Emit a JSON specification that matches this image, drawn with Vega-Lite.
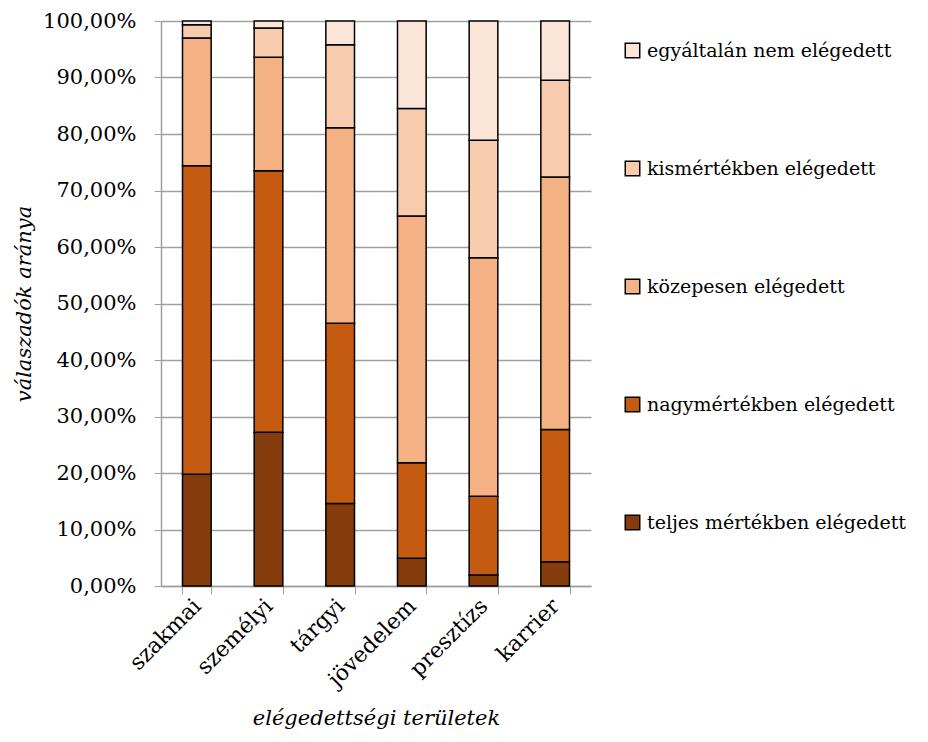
{
  "$schema": "https://vega.github.io/schema/vega-lite/v6.json",
  "width": 430,
  "height": 565,
  "autosize": "none",
  "padding": {"left": 161, "top": 21, "right": 337, "bottom": 156},
  "background": "white",
  "config": {
    "locale": {"number": {"decimal": ",", "thousands": " ", "grouping": [3], "currency": ["", " Ft"]}},
    "view": {"stroke": null},
    "font": "DejaVu Serif",
    "axis": {"labelFont": "DejaVu Serif", "titleFont": "DejaVu Serif"},
    "legend": {"labelFont": "DejaVu Serif"}
  },
  "data": {
    "values": [
      {"terulet": "szakmai", "kat": "teljes mértékben elégedett", "arany": 0.198},
      {"terulet": "szakmai", "kat": "nagymértékben elégedett", "arany": 0.546},
      {"terulet": "szakmai", "kat": "közepesen elégedett", "arany": 0.226},
      {"terulet": "szakmai", "kat": "kismértékben elégedett", "arany": 0.0235},
      {"terulet": "szakmai", "kat": "egyáltalán nem elégedett", "arany": 0.0065},
      {"terulet": "személyi", "kat": "teljes mértékben elégedett", "arany": 0.272},
      {"terulet": "személyi", "kat": "nagymértékben elégedett", "arany": 0.463},
      {"terulet": "személyi", "kat": "közepesen elégedett", "arany": 0.201},
      {"terulet": "személyi", "kat": "kismértékben elégedett", "arany": 0.0516},
      {"terulet": "személyi", "kat": "egyáltalán nem elégedett", "arany": 0.0124},
      {"terulet": "tárgyi", "kat": "teljes mértékben elégedett", "arany": 0.146},
      {"terulet": "tárgyi", "kat": "nagymértékben elégedett", "arany": 0.319},
      {"terulet": "tárgyi", "kat": "közepesen elégedett", "arany": 0.346},
      {"terulet": "tárgyi", "kat": "kismértékben elégedett", "arany": 0.147},
      {"terulet": "tárgyi", "kat": "egyáltalán nem elégedett", "arany": 0.042},
      {"terulet": "jövedelem", "kat": "teljes mértékben elégedett", "arany": 0.049},
      {"terulet": "jövedelem", "kat": "nagymértékben elégedett", "arany": 0.169},
      {"terulet": "jövedelem", "kat": "közepesen elégedett", "arany": 0.437},
      {"terulet": "jövedelem", "kat": "kismértékben elégedett", "arany": 0.19},
      {"terulet": "jövedelem", "kat": "egyáltalán nem elégedett", "arany": 0.155},
      {"terulet": "presztízs", "kat": "teljes mértékben elégedett", "arany": 0.0195},
      {"terulet": "presztízs", "kat": "nagymértékben elégedett", "arany": 0.1395},
      {"terulet": "presztízs", "kat": "közepesen elégedett", "arany": 0.422},
      {"terulet": "presztízs", "kat": "kismértékben elégedett", "arany": 0.208},
      {"terulet": "presztízs", "kat": "egyáltalán nem elégedett", "arany": 0.211},
      {"terulet": "karrier", "kat": "teljes mértékben elégedett", "arany": 0.043},
      {"terulet": "karrier", "kat": "nagymértékben elégedett", "arany": 0.234},
      {"terulet": "karrier", "kat": "közepesen elégedett", "arany": 0.447},
      {"terulet": "karrier", "kat": "kismértékben elégedett", "arany": 0.171},
      {"terulet": "karrier", "kat": "egyáltalán nem elégedett", "arany": 0.105}
    ]
  },
  "mark": {"type": "bar", "stroke": "black", "strokeWidth": 1.5},
  "encoding": {
    "x": {
      "field": "terulet",
      "type": "nominal",
      "sort": ["szakmai", "személyi", "tárgyi", "jövedelem", "presztízs", "karrier"],
      "scale": {"paddingInner": 0.6, "paddingOuter": 0.3},
      "axis": {
        "title": "elégedettségi területek",
        "titleFont": "DejaVu Serif",
        "titleFontStyle": "italic",
        "titleFontWeight": "normal",
        "titleFontSize": 21,
        "titleColor": "black",
        "titlePadding": 17,
        "labelAngle": -45,
        "labelAlign": "right",
        "labelBaseline": "middle",
        "labelFont": "DejaVu Serif",
        "labelFontSize": 22,
        "labelColor": "black",
        "labelPadding": 8,
        "tickBand": "extent",
        "tickSize": 8,
        "tickColor": "#a0a0a0",
        "domainColor": "#a0a0a0",
        "domainWidth": 1.5,
        "grid": false
      }
    },
    "y": {
      "field": "arany",
      "type": "quantitative",
      "stack": "zero",
      "scale": {"domain": [0, 1], "nice": false},
      "axis": {
        "title": "válaszadók aránya",
        "titleFont": "DejaVu Serif",
        "titleFontStyle": "italic",
        "titleFontWeight": "normal",
        "titleFontSize": 21,
        "titleColor": "black",
        "titlePadding": 8,
        "values": [0, 0.1, 0.2, 0.3, 0.4, 0.5, 0.6, 0.7, 0.8, 0.9, 1],
        "format": ".2%",
        "labelFont": "DejaVu Serif",
        "labelFontSize": 21,
        "labelColor": "black",
        "labelPadding": 18,
        "tickSize": 7,
        "tickColor": "#a0a0a0",
        "domainColor": "#a0a0a0",
        "domainWidth": 1.5,
        "gridColor": "#a0a0a0",
        "gridWidth": 1.5
      }
    },
    "color": {
      "field": "kat",
      "type": "nominal",
      "scale": {
        "domain": ["egyáltalán nem elégedett", "kismértékben elégedett", "közepesen elégedett", "nagymértékben elégedett", "teljes mértékben elégedett"],
        "range": ["#FBE5D6", "#F8CBAD", "#F4B183", "#C55A11", "#843C0C"]
      },
      "legend": {
        "title": null,
        "orient": "none",
        "legendX": 462,
        "legendY": 20,
        "symbolType": "square",
        "symbolSize": 210,
        "symbolStrokeColor": "black",
        "symbolStrokeWidth": 1.5,
        "labelFont": "DejaVu Serif",
        "labelFontSize": 19,
        "labelColor": "black",
        "labelOffset": 5,
        "labelLimit": 400,
        "rowPadding": 97
      }
    },
    "order": {"field": "kat", "sort": "descending"}
  }
}
